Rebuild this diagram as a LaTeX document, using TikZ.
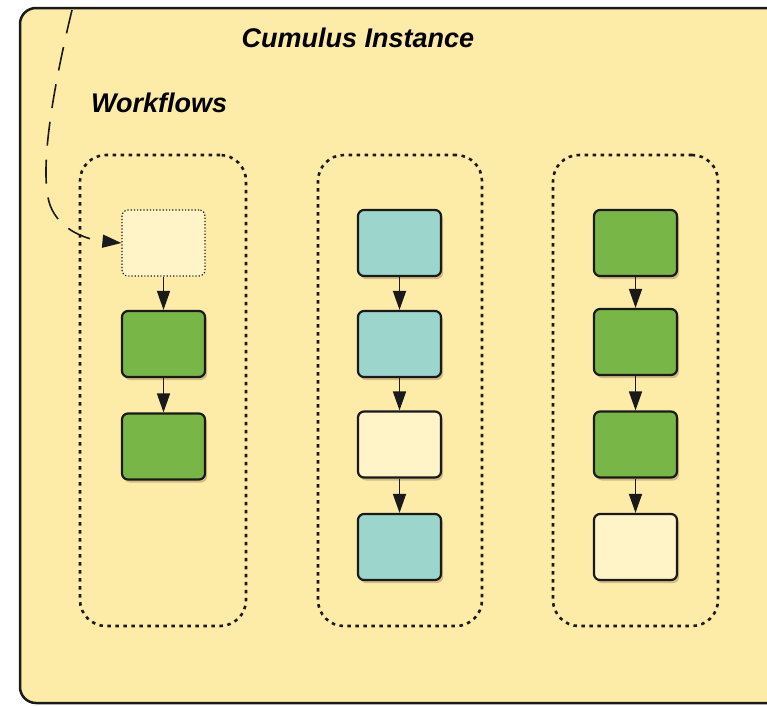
\documentclass[tikz,border=0pt]{standalone}
\usepackage{fontspec}
\setmainfont{Liberation Sans}
\usetikzlibrary{arrows.meta,shadows}
\definecolor{bgyel}{HTML}{FDEBA8}
\definecolor{grn}{HTML}{79B648}
\definecolor{teal}{HTML}{9CD5CB}
\definecolor{pale}{HTML}{FFF3C8}
\definecolor{ink}{HTML}{1A1A1A}
\tikzset{
  card/.style={draw=ink, line width=2.2pt, rounded corners=6pt, minimum width=83pt, minimum height=66pt, inner sep=0pt,
    drop shadow={shadow xshift=2pt, shadow yshift=-3pt, opacity=0.25, fill=black!60!brown}},
  gcard/.style={card, fill=grn},
  tcard/.style={card, fill=teal},
  wcard/.style={card, fill=pale},
  dcard/.style={draw=ink, line width=1.2pt, dotted, rounded corners=6pt, minimum width=83pt, minimum height=66pt, inner sep=0pt, fill=pale},
  group/.style={draw=ink, line width=2.6pt, dash pattern=on 3.5pt off 4.5pt, rounded corners=26pt, inner sep=0pt},
  tip/.style={-{Triangle[length=19pt,width=13pt]}},
  flow/.style={draw=ink, line width=1.6pt, tip},
  title/.style={font=\bfseries\itshape\fontsize{27}{30}\selectfont, text=black, inner sep=0pt}
}
\begin{document}
\begin{tikzpicture}[x=1pt,y=-1pt]
\useasboundingbox (0,0) rectangle (767,705);
% outer instance box
\draw[draw=ink, line width=2.5pt, fill=bgyel, rounded corners=16pt] (20,8) rectangle (800,703);
\node[title] (t1) at (358,38) {Cumulus Instance};
\node[title, anchor=west] (t2) at (91,103) {Workflows};
% groups
\node[group, minimum width=166pt, minimum height=471pt] (g1) at (163,390.5) {};
\node[group, minimum width=164pt, minimum height=471pt] (g2) at (400,390.5) {};
\node[group, minimum width=165pt, minimum height=471pt] (g3) at (635.5,390.5) {};
% column 1
\node[dcard] (a1) at (163.5,243) {};
\node[gcard] (a2) at (163.5,344) {};
\node[gcard] (a3) at (163.5,446.5) {};
% column 2
\node[tcard] (b1) at (399.5,243) {};
\node[tcard] (b2) at (399.5,344) {};
\node[wcard] (b3) at (399.5,444.5) {};
\node[tcard] (b4) at (399.5,547) {};
% column 3
\node[gcard] (c1) at (635.5,243) {};
\node[gcard] (c2) at (635.5,342) {};
\node[gcard] (c3) at (635.5,444.5) {};
\node[wcard] (c4) at (635.5,547) {};
% flows
\draw[flow] (a1) -- (a2);
\draw[flow] (a2) -- (a3);
\draw[flow] (b1) -- (b2);
\draw[flow] (b2) -- (b3);
\draw[flow] (b3) -- (b4);
\draw[flow] (c1) -- (c2);
\draw[flow] (c2) -- (c3);
\draw[flow] (c3) -- (c4);
% incoming dashed
\coordinate (src) at (72,10);
\draw[draw=ink, line width=1.6pt, dash pattern=on 24pt off 14pt, tip]
  (src) .. controls (55,80) and (38,170) .. (50,205)
  .. controls (60,232) and (90,240) .. (a1.west);
\end{tikzpicture}
\end{document}
